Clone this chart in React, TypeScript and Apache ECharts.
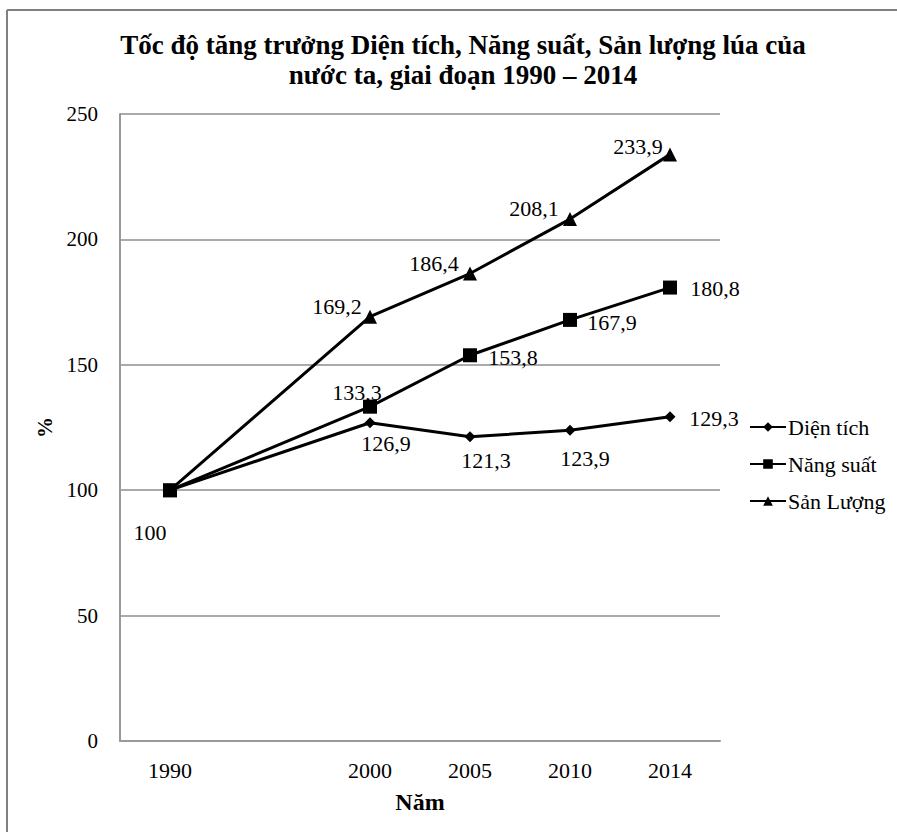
import React, { useEffect, useRef } from "react";
import * as echarts from "echarts";

const years = ["1990", "", "2000", "2005", "2010", "2014"];
const dienTich = [100, null, 126.9, 121.3, 123.9, 129.3];
const nangSuat = [100, null, 133.3, 153.8, 167.9, 180.8];
const sanLuong = [100, null, 169.2, 186.4, 208.1, 233.9];
const yTicks = [0, 50, 100, 150, 200, 250];

const FONT = "Liberation Serif";

// label offsets [dx, dy] per point (null = no label)
const dtOffsets: (number[] | null)[] = [[-20, 42], null, [16, 21], [16, 24], [15, 28], [44, 2]];
const nsOffsets: (number[] | null)[] = [null, null, [-13, -14], [43, 2], [42, 3], [45, 1]];
const slOffsets: (number[] | null)[] = [null, null, [-33, -10], [-36, -10], [-36, -11], [-32, -8]];

function build(values: (number | null)[], offsets: (number[] | null)[]) {
  return values.map((v, i) => {
    const off = offsets[i];
    return {
      value: v,
      label: off
        ? { show: true, position: "inside", offset: off }
        : { show: false },
    };
  });
}

const fmt = (p: any) => String(p.value).replace(".", ",");

export default function App() {
  const ref = useRef<HTMLDivElement>(null);
  useEffect(() => {
    if (!ref.current) return;
    const chart = echarts.init(ref.current, undefined, { renderer: "svg" });
    const labelStyle = {
      formatter: fmt,
      color: "#000",
      fontFamily: FONT,
      fontSize: 22,
    };
    const lineCommon = {
      type: "line",
      connectNulls: true,
      lineStyle: { color: "#000", width: 3 },
      itemStyle: { color: "#000" },
      label: labelStyle,
      z: 3,
    };
    chart.setOption({
      animation: false,
      backgroundColor: "#fff",
      title: {
        text: "Tốc độ tăng trưởng Diện tích, Năng suất, Sản lượng lúa của\nnước ta, giai đoạn 1990 – 2014",
        left: 458,
        top: 25,
        textAlign: "center",
        textStyle: {
          fontFamily: FONT,
          fontWeight: "bold",
          fontSize: 27,
          lineHeight: 30,
          color: "#000",
        },
      },
      graphic: [
        { type: "line", shape: { x1: 7, y1: 10, x2: 897, y2: 10 }, style: { stroke: "#808080", lineWidth: 2 } },
        { type: "line", shape: { x1: 7, y1: 10, x2: 7, y2: 832 }, style: { stroke: "#808080", lineWidth: 2 } },
      ],
      grid: { left: 120, right: 177, top: 114, bottom: 91 },
      legend: {
        orient: "vertical",
        left: 744,
        top: 411,
        itemWidth: 36,
        itemHeight: 12,
        itemGap: 15,
        textStyle: { fontFamily: FONT, fontSize: 22, color: "#000", padding: [0, 0, 0, -3] },
        data: ["Diện tích", "Năng suất", "Sản Lượng"],
      },
      xAxis: {
        type: "category",
        data: years,
        boundaryGap: true,
        name: "Năm",
        nameLocation: "middle",
        nameGap: 49,
        nameTextStyle: { fontFamily: FONT, fontSize: 24, fontWeight: "bold", color: "#000" },
        axisLine: { lineStyle: { color: "#999", width: 2 } },
        axisTick: { show: false },
        axisLabel: { fontFamily: FONT, fontSize: 22, color: "#000", margin: 18, interval: 0 },
      },
      yAxis: {
        type: "value",
        min: yTicks[0],
        max: yTicks[yTicks.length - 1],
        interval: 50,
        name: "%",
        nameLocation: "middle",
        nameGap: 65,
        nameTextStyle: { fontFamily: FONT, fontSize: 21, fontWeight: "bold", color: "#000" },
        axisLine: { show: true, lineStyle: { color: "#999", width: 2 } },
        axisTick: { show: false },
        splitLine: { lineStyle: { color: "#aaa", width: 2 } },
        axisLabel: { fontFamily: FONT, fontSize: 21, color: "#000", margin: 22 },
      },
      series: [
        { ...lineCommon, name: "Diện tích", symbol: "diamond", symbolSize: 11, data: build(dienTich, dtOffsets) },
        { ...lineCommon, name: "Năng suất", symbol: "rect", symbolSize: 14, data: build(nangSuat, nsOffsets) },
        { ...lineCommon, name: "Sản Lượng", symbol: "triangle", symbolSize: 14, data: build(sanLuong, slOffsets) },
      ],
    });
    return () => chart.dispose();
  }, []);
  return (
    <div
      ref={ref}
      style={{ position: "fixed", left: 0, top: 0, width: 897, height: 832 }}
    />
  );
}
